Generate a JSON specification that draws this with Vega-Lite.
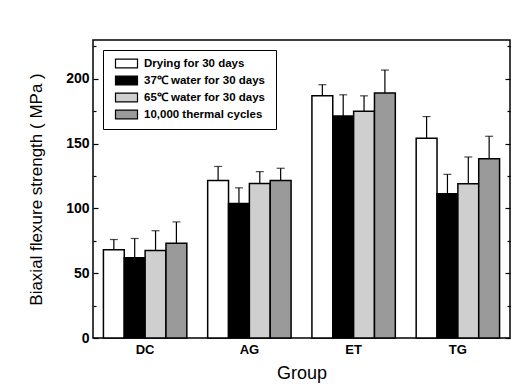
{
  "$schema": "https://vega.github.io/schema/vega-lite/v6.json",
  "width": 417,
  "height": 298,
  "autosize": {"type": "none"},
  "padding": {"left": 93, "top": 40, "right": 22, "bottom": 46},
  "background": "white",
  "config": {
    "view": {"stroke": "black", "strokeWidth": 1.5},
    "font": "Liberation Sans",
    "axis": {"labelFont": "Liberation Sans", "titleFont": "Liberation Sans", "labelColor": "black", "titleColor": "black"}
  },
  "data": {
    "values": [
      {"group": "DC", "condition": "Drying for 30 days", "value": 68.2, "upper": 76},
      {"group": "DC", "condition": "37℃  water for 30 days", "value": 62, "upper": 76.8},
      {"group": "DC", "condition": "65℃  water for 30 days", "value": 67.6, "upper": 82.8},
      {"group": "DC", "condition": "10,000 thermal cycles", "value": 73.1, "upper": 89.6},
      {"group": "AG", "condition": "Drying for 30 days", "value": 121.6, "upper": 132.4},
      {"group": "AG", "condition": "37℃  water for 30 days", "value": 103.8, "upper": 115.9},
      {"group": "AG", "condition": "65℃  water for 30 days", "value": 119.3, "upper": 128.4},
      {"group": "AG", "condition": "10,000 thermal cycles", "value": 121.6, "upper": 131},
      {"group": "ET", "condition": "Drying for 30 days", "value": 186.9, "upper": 195.5},
      {"group": "ET", "condition": "37℃  water for 30 days", "value": 171.4, "upper": 187.7},
      {"group": "ET", "condition": "65℃  water for 30 days", "value": 175.1, "upper": 186.9},
      {"group": "ET", "condition": "10,000 thermal cycles", "value": 189, "upper": 206.8},
      {"group": "TG", "condition": "Drying for 30 days", "value": 154.1, "upper": 170.9},
      {"group": "TG", "condition": "37℃  water for 30 days", "value": 111.4, "upper": 126.3},
      {"group": "TG", "condition": "65℃  water for 30 days", "value": 119, "upper": 139.7},
      {"group": "TG", "condition": "10,000 thermal cycles", "value": 138.4, "upper": 155.7}
    ]
  },
  "resolve": {"axis": {"y": "independent"}},
  "layer": [
    {
      "mark": {"type": "bar", "stroke": "black", "strokeWidth": 1.5},
      "encoding": {
        "x": {
          "field": "group", "type": "nominal", "sort": ["DC", "AG", "ET", "TG"],
          "scale": {"paddingInner": 0.2, "paddingOuter": 0.1},
          "axis": {"title": "Group", "titleFontSize": 18, "titleFontWeight": "normal", "titlePadding": 8, "labelFontSize": 13, "labelFontWeight": "bold", "labelAngle": 0, "ticks": false, "domain": false, "labelPadding": 5}
        },
        "xOffset": {
          "field": "condition", "type": "nominal",
          "sort": ["Drying for 30 days", "37℃  water for 30 days", "65℃  water for 30 days", "10,000 thermal cycles"],
          "scale": {"paddingInner": 0, "paddingOuter": 0}
        },
        "y": {
          "field": "value", "type": "quantitative",
          "scale": {"domain": [0, 230], "nice": false},
          "axis": {
            "orient": "left",
            "title": "Biaxial flexure strength ( MPa )",
            "titleFontSize": 17, "titleFontWeight": "normal", "titlePadding": 20,
            "values": [0, 25, 50, 75, 100, 125, 150, 175, 200, 225],
            "labelExpr": "datum.value % 50 === 0 ? datum.label : ''",
            "labelFontSize": 14, "labelFontWeight": "bold",
            "tickSize": {"condition": {"test": "datum.value % 50 !== 0", "value": -3}, "value": -5},
            "tickColor": "black", "tickWidth": 1.2,
            "domain": false, "grid": false, "labelPadding": 9
          }
        },
        "fill": {
          "field": "condition", "type": "nominal",
          "sort": ["Drying for 30 days", "37℃  water for 30 days", "65℃  water for 30 days", "10,000 thermal cycles"],
          "scale": {"range": ["#ffffff", "#000000", "#cfcfcf", "#9a9a9a"]},
          "legend": {
            "title": null, "orient": "none", "legendX": 10, "legendY": 10,
            "padding": 7, "strokeColor": "black", "fillColor": "white",
            "symbolType": "M-2,-0.8H2V0.8H-2Z", "symbolSize": 121,
            "symbolStrokeColor": "black", "symbolStrokeWidth": 1.2, "symbolOffset": 10,
            "labelOffset": 11, "labelFontSize": 11.5, "labelFontWeight": "bold", "labelFont": "Liberation Sans",
            "labelColor": "black", "rowPadding": 2, "labelLimit": 300
          }
        }
      }
    },
    {
      "mark": {"type": "rule", "color": "black", "strokeWidth": 1.2},
      "encoding": {
        "x": {"field": "group", "type": "nominal", "sort": ["DC", "AG", "ET", "TG"]},
        "xOffset": {"field": "condition", "type": "nominal", "sort": ["Drying for 30 days", "37℃  water for 30 days", "65℃  water for 30 days", "10,000 thermal cycles"]},
        "y": {"field": "value", "type": "quantitative", "axis": null},
        "y2": {"field": "upper"}
      }
    },
    {
      "mark": {"type": "tick", "color": "black", "size": 8, "thickness": 1.2},
      "encoding": {
        "x": {"field": "group", "type": "nominal", "sort": ["DC", "AG", "ET", "TG"]},
        "xOffset": {"field": "condition", "type": "nominal", "sort": ["Drying for 30 days", "37℃  water for 30 days", "65℃  water for 30 days", "10,000 thermal cycles"]},
        "y": {
          "field": "upper", "type": "quantitative",
          "axis": {
            "orient": "right", "title": null, "labels": false, "domain": false, "grid": false,
            "values": [0, 25, 50, 75, 100, 125, 150, 175, 200, 225],
            "tickSize": {"condition": {"test": "datum.value % 50 !== 0", "value": -3}, "value": -5},
            "tickColor": "black", "tickWidth": 1.2
          }
        }
      }
    }
  ]
}
